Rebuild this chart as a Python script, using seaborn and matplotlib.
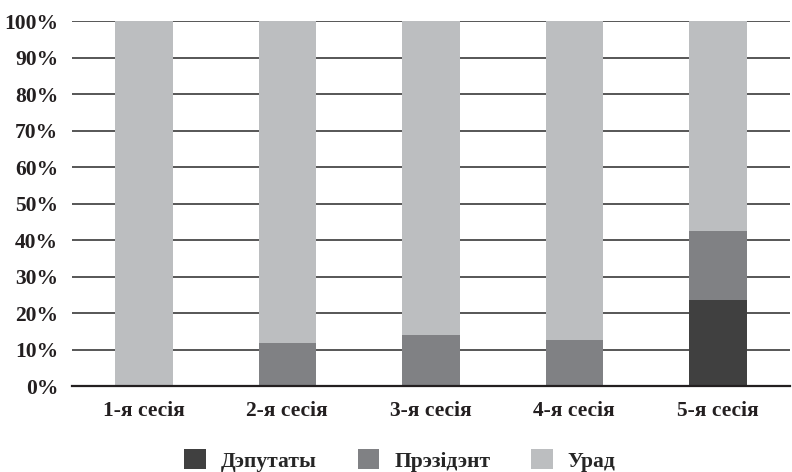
import numpy as np
import pandas as pd
import seaborn as sns
from matplotlib import pyplot as plt
from matplotlib.patches import Patch
from matplotlib.ticker import FuncFormatter

sessions = ["1-я сесія", "2-я сесія", "3-я сесія", "4-я сесія", "5-я сесія"]
deputies = [0, 0, 0, 0, 23.6]
president = [0, 11.8, 14.0, 12.6, 18.9]
government = [100, 88.2, 86.0, 87.4, 57.5]
labels = ["Дэпутаты", "Прэзідэнт", "Урад"]
colors = ["#404040", "#808184", "#bcbec0"]

df = pd.DataFrame({"session": sessions, "d": deputies, "p": president, "g": government})
df["c1"] = df["d"]
df["c2"] = df["d"] + df["p"]
df["c3"] = df["c2"] + df["g"]

sns.set_style("white")
plt.rcParams["font.family"] = ["Liberation Serif", "DejaVu Serif"]
plt.rcParams["font.weight"] = "bold"

fig = plt.figure(figsize=(7.92, 4.72), dpi=100)
ax = fig.add_axes([0.091, 0.182, 0.906, 0.773])

# stacked: tallest cumulative first, then overdraw
for col, c in zip(["c3", "c2", "c1"], colors[::-1]):
    sns.barplot(data=df, x="session", y=col, color=c, width=0.4,
                saturation=1, linewidth=0, edgecolor="none", ax=ax, zorder=3)

ax.set_ylim(0, 100)
ax.set_xlim(-0.5, 4.5)
ax.set_yticks(np.arange(0, 101, 10))
ax.yaxis.set_major_formatter(FuncFormatter(lambda v, p: f"{int(v)}%"))
ax.grid(axis="y", color="#3a3a3a", linewidth=1.2, zorder=0)
ax.set_axisbelow(True)
for s in ["left", "right", "top"]:
    ax.spines[s].set_visible(False)
ax.spines["bottom"].set_color("#231f20")
ax.spines["bottom"].set_linewidth(1.6)
ax.spines["bottom"].set_zorder(4)
ax.tick_params(axis="both", length=0, labelsize=15.5, colors="#231f20")
ax.tick_params(axis="y", pad=10)
ax.tick_params(axis="x", pad=11)
for t in ax.get_xticklabels() + ax.get_yticklabels():
    t.set_fontweight("bold")
ax.set_xlabel("")
ax.set_ylabel("")

handles = [Patch(facecolor=c, edgecolor="none") for c in colors]
fig.legend(handles, labels, loc="lower center", bbox_to_anchor=(0.505, -0.04), ncol=3,
           frameon=False, handlelength=1.0, handleheight=1.0, columnspacing=1.9,
           handletextpad=0.7, prop={"size": 15.5, "weight": "bold"})

fig.savefig("out.png", dpi=100)
